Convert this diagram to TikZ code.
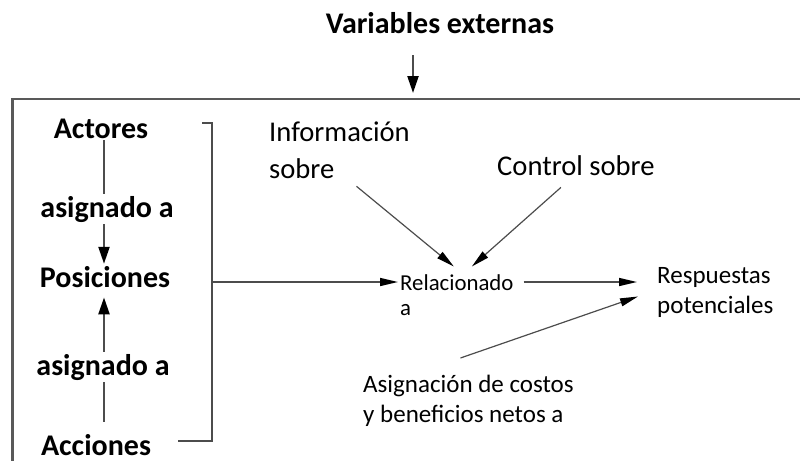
\documentclass[tikz,border=0pt]{standalone}
\usepackage{fontspec}
\setmainfont{Carlito}
\usetikzlibrary{arrows.meta}

\begin{document}
\begin{tikzpicture}[x=1pt,y=-1pt,
	lbl/.style={inner sep=2pt},
	bigb/.style={lbl,font=\fontsize{30}{34}\selectfont\bfseries},
	mid/.style={lbl,align=left,font=\fontsize{28.6}{37}\selectfont},
	sml/.style={lbl,align=left,font=\fontsize{25}{29.5}\selectfont},
	arr/.style={draw=\clrline,line width=1.5pt,-{Triangle[length=18pt,width=8pt,color=black]}},
	varr/.style={arr,line width=2.3pt,-{Triangle[length=17pt,width=11pt,color=black]}}]

\def\clrline{black!70}
\def\clrbox{black!65}
\def\colX{104}

\useasboundingbox (0,0) rectangle (800,461);

% frame, open to the right and below
\draw[\clrbox,line width=2.6pt] (800,99) -- (12.5,99) -- (12.5,461);

\node[bigb,anchor=base] (varext) at (440,33) {Variables externas};
\coordinate (boxin) at (413,93);
\draw[varr,shorten <=20pt] (varext.south -| boxin) -- (boxin);

% left column
\coordinate (colx) at (\colX,0);
\node[bigb,anchor=base] (actores) at (101,138) {Actores};
\node[bigb,anchor=base] (posic) at (105,287) {Posiciones};
\node[bigb,anchor=base] (acciones) at (96,455) {Acciones};
\draw[varr] (actores.south -| colx) -- (posic.north -| colx);
\draw[varr,shorten <=10pt,shorten >=8pt] (acciones.north -| colx) -- (posic.south -| colx);
\node[bigb,anchor=base,fill=white] (asigA) at (107,217) {asignado a};
\node[bigb,anchor=base,fill=white] (asigB) at (103,375) {asignado a};

% bracket
\draw[\clrline,line width=1.3pt] (202,123) -- (212,123) -- (212,441) -- (178,441);
\coordinate (brkmid) at (212,282);

% right part
\node[lbl,anchor=north west,align=left,font=\fontsize{22.8}{25}\selectfont] (relac) at (398,272.5) {Relacionado\\a};
\node[sml,anchor=north west] (resp) at (655,265.5) {Respuestas\\potenciales};
\node[mid,anchor=north west] (info) at (267,120) {Información\\sobre};
\node[mid,anchor=base west] (control) at (495,175) {Control sobre};
\node[sml,anchor=north west] (asign) at (361,373) {Asignación de costos\\y beneficios netos a};

\draw[arr] (brkmid) -- (brkmid -| relac.west);
\draw[arr,shorten <=8pt,shorten >=18pt] (relac.east |- brkmid) -- (resp.west |- brkmid);
\draw[arr,line width=1.2pt] ([xshift=17pt,yshift=-5pt]info.south) -- ([xshift=-3pt,yshift=6pt]relac.north);
\draw[arr,line width=1.2pt] ([xshift=-15pt,yshift=-10pt]control.south) -- ([xshift=15pt,yshift=6pt]relac.north);
\draw[arr,line width=1.2pt] ([xshift=-8pt,yshift=15pt]asign.north) -- ([xshift=-17pt,yshift=-4pt]resp.west);

\end{tikzpicture}
\end{document}
